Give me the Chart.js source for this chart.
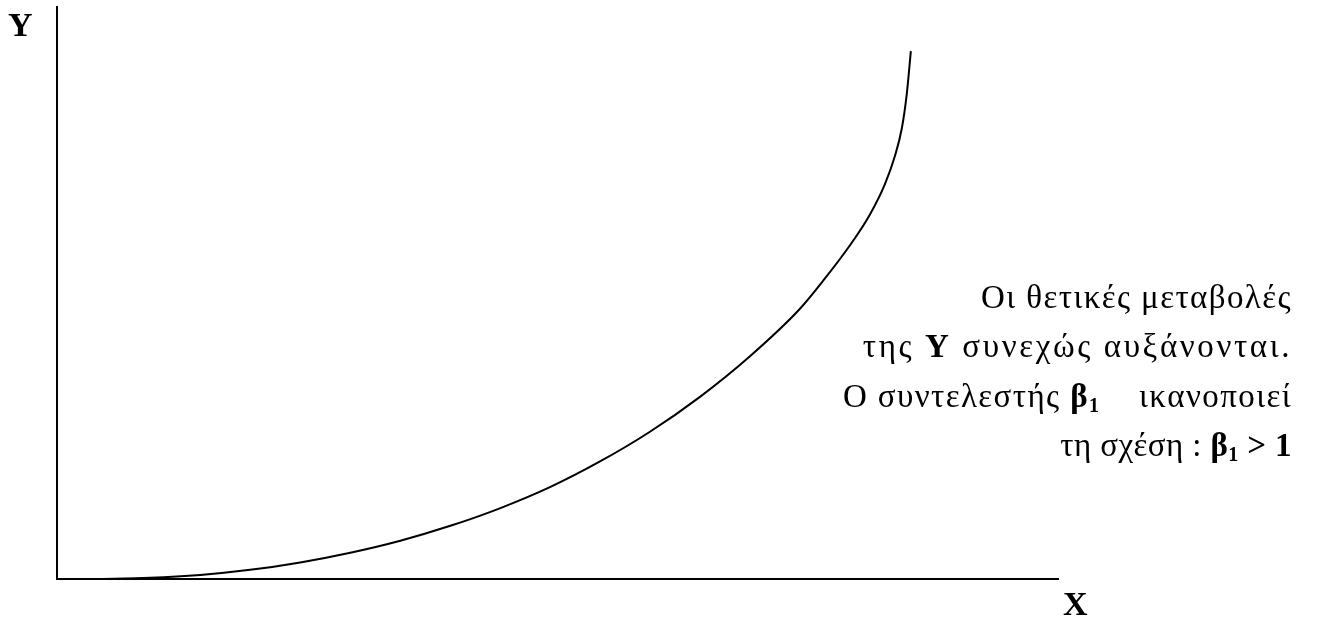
<!DOCTYPE html>
<html>
<head>
<meta charset="utf-8">
<title>Καμπύλη με β1 > 1</title>
<script src="https://cdn.jsdelivr.net/npm/chart.js@4/dist/chart.umd.min.js"></script>
<style>
  html, body { margin: 0; padding: 0; background: #fff; }
  #wrap { width: 1317px; height: 620px; }
</style>
</head>
<body>
<div id="wrap"><canvas id="c" width="1317" height="620"></canvas></div>
<script>
// Curve samples (arbitrary units, X 0–100, Y 0–100)
const xValues = [3.8, 9.3, 14.3, 19.3, 24.3, 29.3, 34.3, 39.3, 44.3, 49.3, 54.2, 59.2, 64.2, 69.2, 74.2, 76.7, 79.2, 81.2, 82.7, 83.7, 84.4, 84.9, 85.3];
const yValues = [0.0, 0.2, 0.7, 1.6, 2.9, 4.6, 6.7, 9.3, 12.4, 16.1, 20.5, 25.7, 31.8, 38.9, 47.2, 52.5, 58.3, 63.7, 69.0, 73.9, 78.8, 84.9, 92.3];

// Axis names
const xAxisName = 'X';
const yAxisName = 'Y';

// Annotation lines, each a list of [text, style] runs ('n' normal, 'b' bold, 's' bold subscript)
const noteLine1 = [['Οι θετικές μεταβολές', 'n']];
const noteLine2 = [['της ', 'n'], ['Υ', 'b'], [' συνεχώς αυξάνονται.', 'n']];
const noteLine3 = [['Ο συντελεστής ', 'n'], ['β', 'b'], ['1', 's'], ['    ικανοποιεί', 'n']];
const noteLine4 = [['τη σχέση : ', 'n'], ['β', 'b'], ['1', 's'], [' > 1', 'b']];
const noteLines = [noteLine1, noteLine2, noteLine3, noteLine4];

const FONT = '"Liberation Serif", "Times New Roman", serif';

const textPlugin = {
  id: 'textPlugin',
  afterDraw(chart) {
    const ctx = chart.ctx;
    const area = chart.chartArea;
    ctx.save();
    ctx.fillStyle = '#000';
    ctx.textBaseline = 'alphabetic';
    ctx.textAlign = 'left';

    // axis names
    ctx.font = 'bold 34px ' + FONT;
    ctx.fillText(yAxisName, 8, 36);
    ctx.fillText(xAxisName, area.right + 5, 615);

    // annotation block, right aligned
    const fontFor = s => s === 'n' ? '33px ' + FONT : (s === 'b' ? 'bold 33px ' + FONT : 'bold 20px ' + FONT);
    const spacings = [1.4, 2.6, 1.4, 0.4];
    const widthOf = (t, s, sp) => {
      ctx.font = fontFor(s);
      let w = 0;
      for (const ch of t) w += ctx.measureText(ch).width + sp;
      return w;
    };
    const right = 1292;
    const baselines = [308, 357, 407, 456];
    noteLines.forEach((runs, i) => {
      const sp = spacings[i];
      let total = 0;
      runs.forEach(([t, s]) => { total += widthOf(t, s, sp); });
      let x = right - total;
      runs.forEach(([t, s]) => {
        ctx.font = fontFor(s);
        let cx = x;
        for (const ch of t) {
          ctx.fillText(ch, cx, baselines[i] + (s === 's' ? 5 : 0));
          cx += ctx.measureText(ch).width + sp;
        }
        x += widthOf(t, s, sp);
      });
    });
    ctx.restore();
  }
};

const points = xValues.map((x, i) => ({ x: x, y: yValues[i] }));

new Chart(document.getElementById('c'), {
  type: 'line',
  data: {
    datasets: [{
      data: points,
      borderColor: '#000',
      borderWidth: 2,
      pointRadius: 0,
      fill: false,
      cubicInterpolationMode: 'monotone'
    }]
  },
  options: {
    responsive: false,
    animation: false,
    layout: { padding: { left: 57, top: 7, right: 1317 - 1058, bottom: 620 - 579 } },
    plugins: { legend: { display: false }, tooltip: { enabled: false } },
    scales: {
      x: {
        type: 'linear', min: 0, max: 100,
        ticks: { display: false },
        grid: { display: false, drawTicks: false },
        border: { display: true, color: '#000', width: 2 }
      },
      y: {
        type: 'linear', min: 0, max: 100,
        ticks: { display: false },
        grid: { display: false, drawTicks: false },
        border: { display: true, color: '#000', width: 2 }
      }
    }
  },
  plugins: [textPlugin]
});
</script>
</body>
</html>
